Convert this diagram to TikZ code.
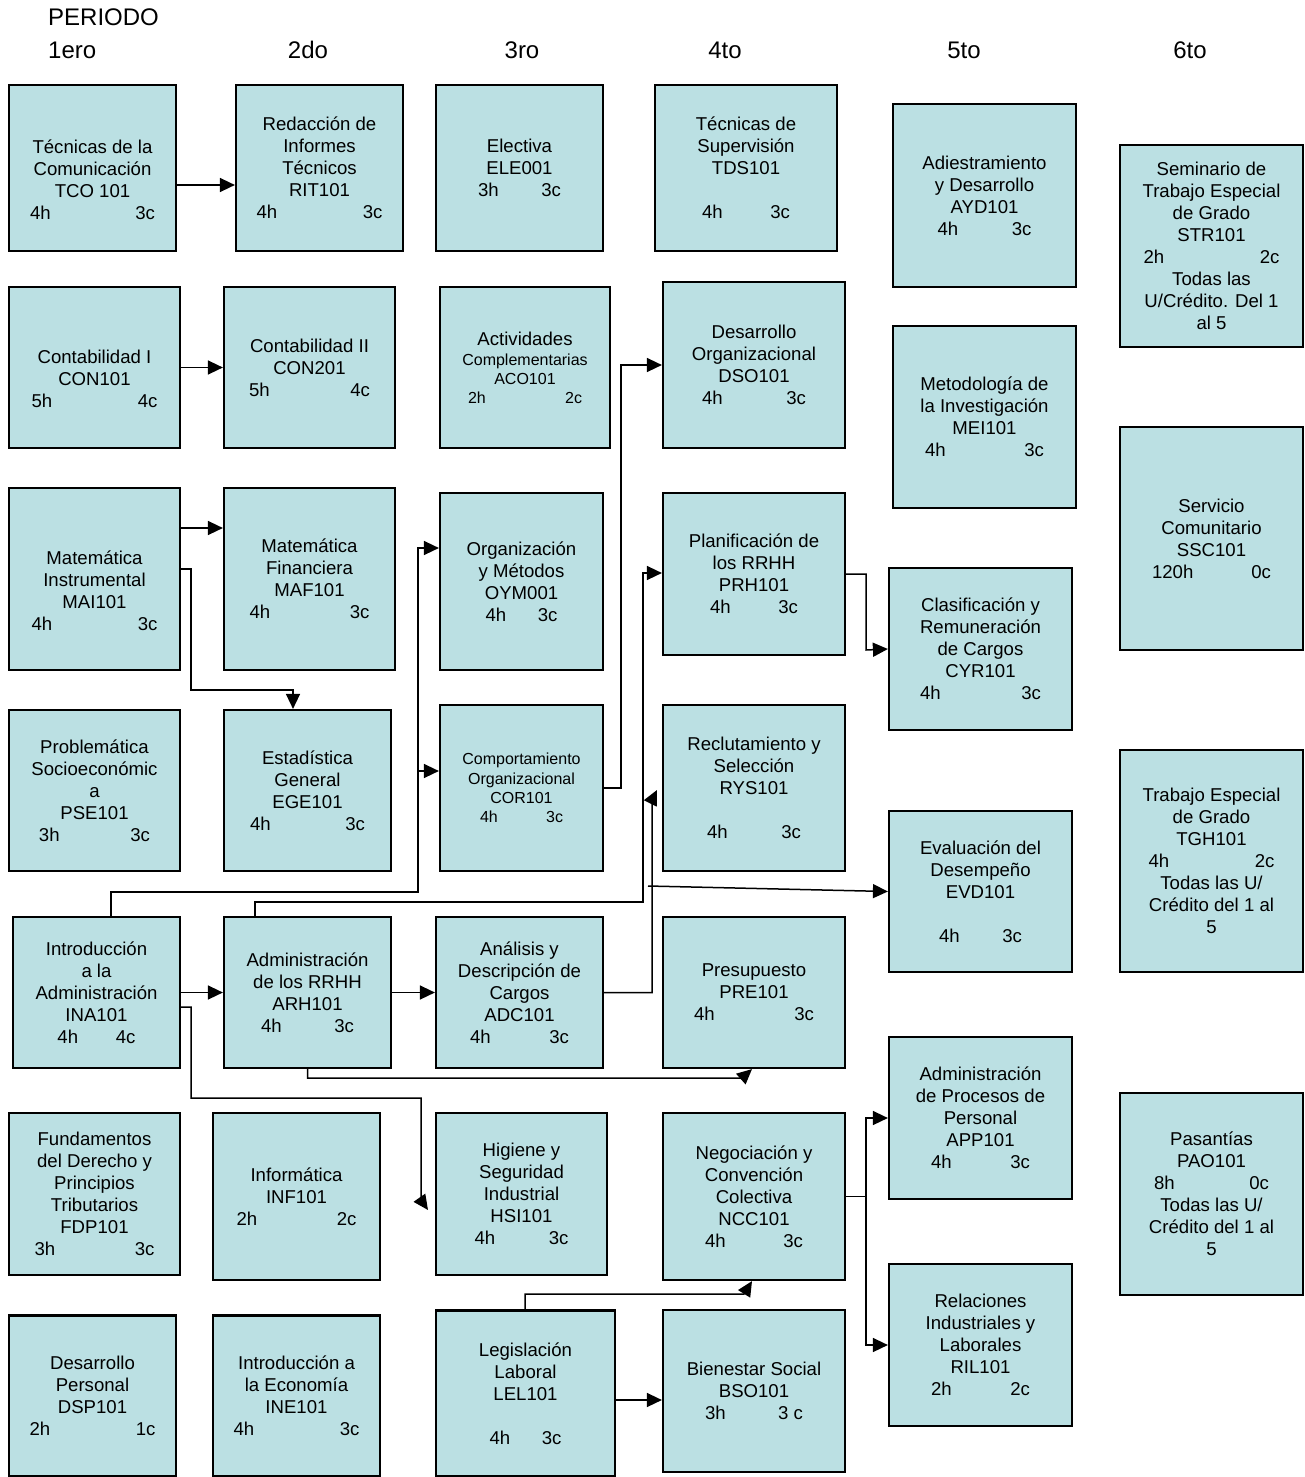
\documentclass[tikz,border=0pt]{standalone}
\usepackage{fontspec}
\setmainfont{Liberation Sans}
\usepackage{tikz}
\usetikzlibrary{arrows.meta}

\definecolor{boxblue}{RGB}{187,224,227}
\newcommand{\hrcr}[3]{\makebox[#1pt]{#2\hfill#3}}
\newcommand{\boxfont}{\fontsize{18.6}{22}\selectfont}
\newcommand{\smallboxfont}{\fontsize{16}{19.3}\selectfont}
\newcommand{\headfont}{\fontsize{24}{28}\selectfont}

\tikzset{
    course/.style={draw=black, line width=2.2pt, fill=boxblue, align=center,
        inner sep=0pt, font=\boxfont},
    boxsize/.style 2 args={minimum width=#1pt, minimum height=#2pt},
    head/.style={font=\headfont, inner sep=0pt},
    link/.style={line width=1.5pt, -{Triangle[length=15pt,width=14pt]}},
    plain/.style={line width=1.5pt}
}

\begin{document}
\begin{tikzpicture}[x=1pt,y=-1pt]
    \useasboundingbox (0,0) rectangle (1305,1477);

    \node[head,anchor=west] (periodo) at (48,17) {PERIODO};
    \node[head,anchor=west] (p1) at (48,50) {1ero};
    \node[head] (p2) at (308,50) {2do};
    \node[head] (p3) at (522,50) {3ro};
    \node[head] (p4) at (725,50) {4to};
    \node[head] (p5) at (964,50) {5to};
    \node[head] (p6) at (1190,50) {6to};

    % 1ero
    \node[course,boxsize={167}{166}] (tco) at (92.5,168)
        {\mbox{}\\[15pt]Técnicas de la\\Comunicación\\TCO 101\\\hrcr{125}{4h}{3c}};
    \node[course,boxsize={171}{161}] (con1) at (94.5,367.5)
        {\mbox{}\\[15pt]Contabilidad I\\CON101\\\hrcr{126}{5h}{4c}};
    \node[course,boxsize={171}{182}] (mai) at (94.5,579)
        {\mbox{}\\[15pt]Matemática\\Instrumental\\MAI101\\\hrcr{126}{4h}{3c}};
    \node[course,boxsize={171}{161}] (pse) at (94.5,790.5)
        {Problemática\\Socioeconómic\\a\\PSE101\\\hrcr{111}{3h}{3c}};
    \node[course,boxsize={167}{151}] (ina) at (96.5,992.5)
        {Introducción\\a la\\Administración\\INA101\\\hrcr{78}{4h}{4c}};
    \node[course,boxsize={171}{162}] (fdp) at (94.5,1194)
        {Fundamentos\\del Derecho y\\Principios\\Tributarios\\FDP101\\\hrcr{120}{3h}{3c}};
    \node[course,boxsize={167}{161}] (dsp) at (92.5,1396)
        {Desarrollo\\Personal\\DSP101\\\hrcr{126}{2h}{1c}};

    % 2do
    \node[course,boxsize={167}{166}] (rit) at (319.5,168)
        {Redacción de\\Informes\\Técnicos\\RIT101\\\hrcr{126}{4h}{3c}};
    \node[course,boxsize={171}{161}] (con2) at (309.5,367.5)
        {Contabilidad II\\CON201\\\hrcr{121}{5h}{4c}};
    \node[course,boxsize={171}{182}] (maf) at (309.5,579)
        {Matemática\\Financiera\\MAF101\\\hrcr{120}{4h}{3c}};
    \node[course,boxsize={167}{161}] (ege) at (307.5,790.5)
        {Estadística\\General\\EGE101\\\hrcr{115}{4h}{3c}};
    \node[course,boxsize={167}{151}] (arh) at (307.5,992.5)
        {Administración\\de los RRHH\\ARH101\\\hrcr{93}{4h}{3c}};
    \node[course,boxsize={167}{167}] (inf) at (296.5,1196.5)
        {Informática\\INF101\\\hrcr{120}{2h}{2c}};
    \node[course,boxsize={167}{161}] (ine) at (296.5,1396)
        {Introducción a\\la Economía\\INE101\\\hrcr{126}{4h}{3c}};

    % 3ro
    \node[course,boxsize={167}{166}] (ele) at (519.5,168)
        {Electiva\\ELE001\\\hrcr{83}{3h}{3c}};
    \node[course,boxsize={170}{161}] (aco) at (525,367.5)
        {Actividades\\[-2pt]{\smallboxfont Complementarias}\\[-3pt]{\smallboxfont ACO101}\\[-3pt]{\smallboxfont\hrcr{114}{2h}{2c}}};
    \node[course,boxsize={163}{177}] (oym) at (521.5,581.5)
        {Organización\\y Métodos\\OYM001\\\hrcr{72}{4h}{3c}};
    \node[course,boxsize={163}{166},font=\smallboxfont] (cor) at (521.5,788)
        {Comportamiento\\Organizacional\\COR101\\\hrcr{83}{4h}{3c}};
    \node[course,boxsize={167}{151}] (adc) at (519.5,992.5)
        {Análisis y\\Descripción de\\Cargos\\ADC101\\\hrcr{99}{4h}{3c}};
    \node[course,boxsize={171}{162}] (hsi) at (521.5,1194)
        {Higiene y\\Seguridad\\Industrial\\HSI101\\\hrcr{94}{4h}{3c}};
    \node[course,boxsize={179}{166}] (lel) at (525.5,1393.5)
        {Legislación\\Laboral\\LEL101\\[22pt]\hrcr{72}{4h}{3c}};

    % 4to
    \node[course,boxsize={182}{166}] (tds) at (746,168)
        {Técnicas de\\Supervisión\\TDS101\\[22pt]\hrcr{88}{4h}{3c}};
    \node[course,boxsize={182}{166}] (dso) at (754,365)
        {Desarrollo\\Organizacional\\DSO101\\\hrcr{104}{4h}{3c}};
    \node[course,boxsize={182}{162}] (prh) at (754,574)
        {Planificación de\\los RRHH\\PRH101\\\hrcr{88}{4h}{3c}};
    \node[course,boxsize={182}{166}] (rys) at (754,788)
        {Reclutamiento y\\Selección\\RYS101\\[22pt]\hrcr{94}{4h}{3c}};
    \node[course,boxsize={182}{151}] (pre) at (754,992.5)
        {Presupuesto\\PRE101\\\hrcr{120}{4h}{3c}};
    \node[course,boxsize={182}{167}] (ncc) at (754,1196.5)
        {Negociación y\\Convención\\Colectiva\\NCC101\\\hrcr{98}{4h}{3c}};
    \node[course,boxsize={182}{162}] (bso) at (754,1391)
        {Bienestar Social\\BSO101\\\hrcr{98}{3h}{3 c}};

    % 5to
    \node[course,boxsize={183}{183}] (ayd) at (984.5,195.5)
        {Adiestramiento\\y Desarrollo\\AYD101\\\hrcr{94}{4h}{3c}};
    \node[course,boxsize={183}{182}] (mei) at (984.5,417)
        {Metodología de\\la Investigación\\MEI101\\\hrcr{119}{4h}{3c}};
    \node[course,boxsize={183}{162}] (cyr) at (980.5,649)
        {Clasificación y\\Remuneración\\de Cargos\\CYR101\\\hrcr{121}{4h}{3c}};
    \node[course,boxsize={183}{161}] (evd) at (980.5,891.5)
        {Evaluación del\\Desempeño\\EVD101\\[22pt]\hrcr{83}{4h}{3c}};
    \node[course,boxsize={183}{162}] (app) at (980.5,1118)
        {Administración\\de Procesos de\\Personal\\APP101\\\hrcr{99}{4h}{3c}};
    \node[course,boxsize={183}{162}] (ril) at (980.5,1345)
        {Relaciones\\Industriales y\\Laborales\\RIL101\\\hrcr{99}{2h}{2c}};

    % 6to
    \node[course,boxsize={183}{202}] (str) at (1211.5,246)
        {Seminario de\\Trabajo Especial\\de Grado\\STR101\\\hrcr{136}{2h}{2c}\\Todas las\\U/Crédito. Del 1\\al 5};
    \node[course,boxsize={183}{223}] (ssc) at (1211.5,538.5)
        {Servicio\\Comunitario\\SSC101\\\hrcr{119}{120h}{0c}};
    \node[course,boxsize={183}{222}] (tgh) at (1211.5,861)
        {Trabajo Especial\\de Grado\\TGH101\\\hrcr{126}{4h}{2c}\\Todas las U/\\Crédito del 1 al\\5};
    \node[course,boxsize={183}{202}] (pao) at (1211.5,1194)
        {Pasantías\\PAO101\\\hrcr{115}{8h}{0c}\\Todas las U/\\Crédito del 1 al\\5};

    % prelaciones
    \draw[link] (tco.east |- 0,185) -- (rit.west |- 0,185);
    \draw[link] (con1.east) -- (con2.west);
    \draw[link] (mai.east |- 0,528) -- (maf.west |- 0,528);
    \draw[link] (mai.east |- 0,569) -| (191,690) -| (293,0 |- ege.north);

    \draw[link] (111,0 |- ina.north) |- (418,892) coordinate (ina-up)
        |- (oym.west |- 0,548);
    \draw[link] (ina-up |- 0,771) -- (cor.west |- 0,771);
    \draw[link] (ina.east) -- (arh.west);
    \draw[link] (ina.east |- 0,1007) -| (191,1098) -| (421,1200) -- (428,1210);

    \draw[link] (255,0 |- arh.north) |- (643,902) |- (prh.west |- 0,573);
    \draw[link] (arh.east) -- (adc.west);
    \draw[link] (arh.south) |- (742,1078) -- (752,0 |- pre.south);

    \draw[link] (cor.east) -- (621,0 |- cor.east) |- (dso.west);
    \draw[link] (adc.east) -| (652,800) -- (657,790);
    \draw[link] (648,886) -- (evd.west);

    \draw[link] (prh.east) -| (866,650) -- (cyr.west);
    \draw[plain] (ncc.east) -- (866,0 |- ncc.east) coordinate (ncc-j);
    \draw[link] (ncc-j) |- (app.west);
    \draw[link] (ncc-j) |- (ril.west);

    \draw[link] (525,0 |- lel.north) |- (744,1294) -- (752,0 |- ncc.south);
    \draw[link] (lel.east |- 0,1400) -- (bso.west |- 0,1400);

\end{tikzpicture}
\end{document}
